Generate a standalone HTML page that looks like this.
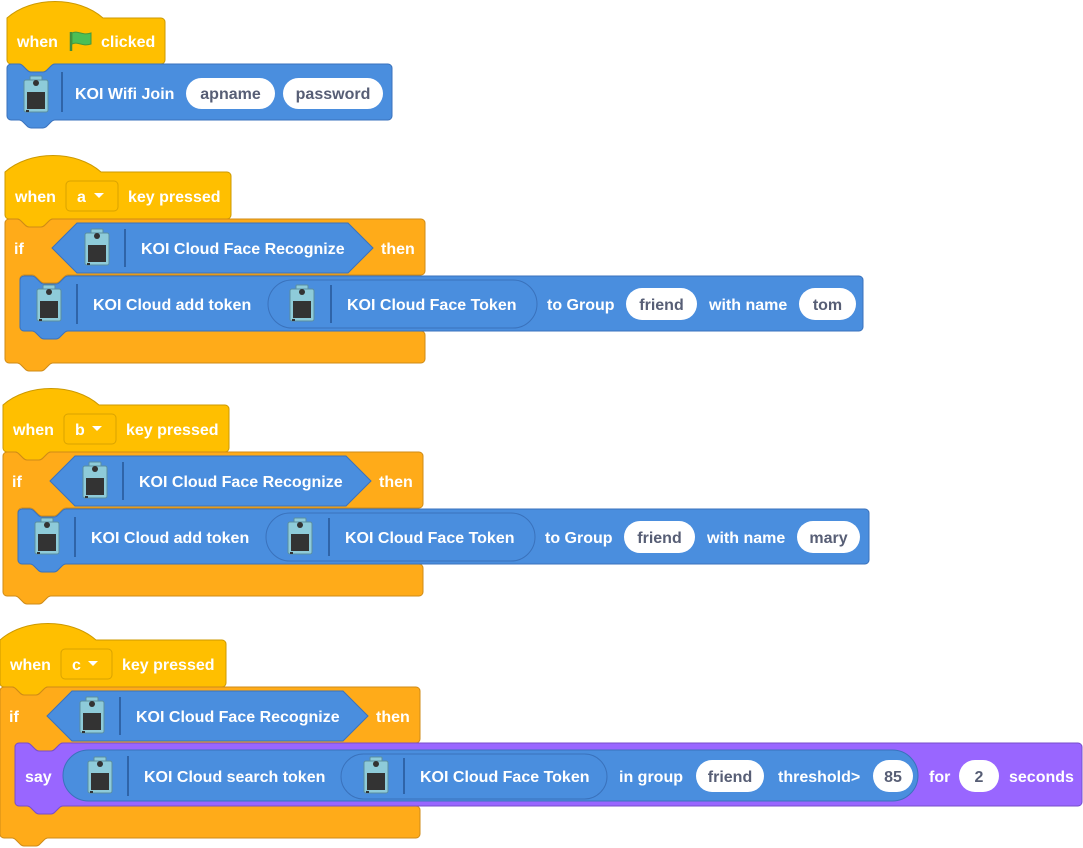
<!DOCTYPE html>
<html><head><meta charset="utf-8"><style>
html,body{margin:0;padding:0;background:#fff;width:1083px;height:848px;overflow:hidden}
svg text{font-family:"Liberation Sans",sans-serif;font-weight:bold;font-size:16px}
.w{fill:#fff}.g{fill:#575E75;text-anchor:middle}
.ov{fill:#fff}
.hat{fill:#FFBF00;stroke:#CC9900;stroke-width:1}
.dd{fill:#FFBF00;stroke:#D9A300;stroke-width:1}
.ctl{fill:#FFAB19;stroke:#CF8B17;stroke-width:1}
.blu{fill:#4A8EDE;stroke:#3A72BC;stroke-width:1}
.pur{fill:#9966FF;stroke:#774DCB;stroke-width:1}
.dv{stroke:#2F64A8;stroke-width:2}
</style></head><body>
<svg width="1083" height="848" viewBox="0 0 1083 848" xmlns="http://www.w3.org/2000/svg">
<defs>
<g id="ic">
<rect x="-6" y="-19" width="12" height="6" rx="1" fill="#8ECBD9" stroke="#5A8FA0"/>
<rect x="-12" y="-15" width="24" height="32" rx="2" fill="#8ECBD9" stroke="#5A8FA0"/>
<circle cx="0" cy="-12" r="3" fill="#333"/>
<rect x="-9" y="-3" width="18" height="17" fill="#333"/>
<rect x="-10" y="15" width="3" height="2" fill="#333"/>
</g>
</defs>

<!-- Script 1 -->
<path class="hat" d="M7,18 c25,-22 71,-22 96,0 H161 a4,4 0 0 1 4,4 V60 a4,4 0 0 1 -4,4 H55 c-2,0 -3,1 -4,2 l-4,4 c-1,1 -2,2 -4,2 h-12 c-2,0 -3,-1 -4,-2 l-4,-4 c-1,-1 -2,-2 -4,-2 H11 a4,4 0 0 1 -4,-4 Z"/>
<text class="w" x="17" y="47">when</text>
<path d="M71,32 V51" stroke="#3F8F3F" stroke-width="2.5"/>
<path d="M72,33 c6,-3 10,3 19,0 v11 c-9,3 -13,-3 -19,0 Z" fill="#4CBF56" stroke="#45993D"/>
<text class="w" x="101" y="47">clicked</text>

<path class="blu" d="M7,68 a4,4 0 0 1 4,-4 h8 c2,0 3,1 4,2 l4,4 c1,1 2,2 4,2 h12 c2,0 3,-1 4,-2 l4,-4 c1,-1 2,-2 4,-2 H388 a4,4 0 0 1 4,4 V116 a4,4 0 0 1 -4,4 H55 c-2,0 -3,1 -4,2 l-4,4 c-1,1 -2,2 -4,2 h-12 c-2,0 -3,-1 -4,-2 l-4,-4 c-1,-1 -2,-2 -4,-2 H11 a4,4 0 0 1 -4,-4 Z"/>
<use href="#ic" x="36" y="95"/>
<path class="dv" d="M62,72 V112"/>
<text class="w" x="75" y="99">KOI Wifi Join</text>
<rect class="ov" x="186" y="78" width="89" height="31" rx="15.5"/><text class="g" x="230.5" y="99">apname</text>
<rect class="ov" x="283" y="78" width="100" height="31" rx="15.5"/><text class="g" x="333" y="99">password</text>

<!-- Script 2 -->
<g>
<path class="hat" d="M5,172 c25,-22 71,-22 96,0 H227 a4,4 0 0 1 4,4 V215 a4,4 0 0 1 -4,4 H53 c-2,0 -3,1 -4,2 l-4,4 c-1,1 -2,2 -4,2 h-12 c-2,0 -3,-1 -4,-2 l-4,-4 c-1,-1 -2,-2 -4,-2 H9 a4,4 0 0 1 -4,-4 Z"/>
<text class="w" x="15" y="202">when</text>
<rect class="dd" x="66" y="181" width="52" height="30" rx="4"/>
<text class="w" x="77" y="202">a</text><path d="M94,193 h10 l-5,5 Z" fill="#fff"/>
<text class="w" x="128" y="202">key pressed</text>

<path class="ctl" d="M5,223 a4,4 0 0 1 4,-4 h8 c2,0 3,1 4,2 l4,4 c1,1 2,2 4,2 h12 c2,0 3,-1 4,-2 l4,-4 c1,-1 2,-2 4,-2 H421 a4,4 0 0 1 4,4 V271 a4,4 0 0 1 -4,4 H68 c-2,0 -3,1 -4,2 l-4,4 c-1,1 -2,2 -4,2 h-12 c-2,0 -3,-1 -4,-2 l-4,-4 c-1,-1 -2,-2 -4,-2 H24 a4,4 0 0 0 -4,4 V327 a4,4 0 0 0 4,4 H421 a4,4 0 0 1 4,4 V359 a4,4 0 0 1 -4,4 H53 c-2,0 -3,1 -4,2 l-4,4 c-1,1 -2,2 -4,2 h-12 c-2,0 -3,-1 -4,-2 l-4,-4 c-1,-1 -2,-2 -4,-2 H9 a4,4 0 0 1 -4,-4 Z"/>
<text class="w" x="14" y="254">if</text>
<polygon class="blu" points="52,248 77,223 348,223 373,248 348,273 77,273"/>
<use href="#ic" x="97" y="248"/><path class="dv" d="M125,229 V267"/>
<text class="w" x="141" y="254">KOI Cloud Face Recognize</text>
<text class="w" x="381" y="254">then</text>

<path class="blu" d="M20,280 a4,4 0 0 1 4,-4 h8 c2,0 3,1 4,2 l4,4 c1,1 2,2 4,2 h12 c2,0 3,-1 4,-2 l4,-4 c1,-1 2,-2 4,-2 H859 a4,4 0 0 1 4,4 V327 a4,4 0 0 1 -4,4 H68 c-2,0 -3,1 -4,2 l-4,4 c-1,1 -2,2 -4,2 h-12 c-2,0 -3,-1 -4,-2 l-4,-4 c-1,-1 -2,-2 -4,-2 H24 a4,4 0 0 1 -4,-4 Z"/>
<use href="#ic" x="49" y="304"/><path class="dv" d="M77,284 V324"/>
<text class="w" x="93" y="310">KOI Cloud add token</text>
<rect class="blu" x="268" y="280" width="269" height="48" rx="24"/>
<use href="#ic" x="302" y="304"/><path class="dv" d="M331,285 V323"/>
<text class="w" x="347" y="310">KOI Cloud Face Token</text>
<text class="w" x="547" y="310">to Group</text>
<rect class="ov" x="626" y="288" width="71" height="32" rx="16"/><text class="g" x="661.5" y="310">friend</text>
<text class="w" x="709" y="310">with name</text>
<rect class="ov" x="799" y="288" width="57" height="32" rx="16"/><text class="g" x="827.5" y="310">tom</text>
</g>

<!-- Script 3 -->
<g transform="translate(-2,233)">
<path class="hat" d="M5,172 c25,-22 71,-22 96,0 H227 a4,4 0 0 1 4,4 V215 a4,4 0 0 1 -4,4 H53 c-2,0 -3,1 -4,2 l-4,4 c-1,1 -2,2 -4,2 h-12 c-2,0 -3,-1 -4,-2 l-4,-4 c-1,-1 -2,-2 -4,-2 H9 a4,4 0 0 1 -4,-4 Z"/>
<text class="w" x="15" y="202">when</text>
<rect class="dd" x="66" y="181" width="52" height="30" rx="4"/>
<text class="w" x="77" y="202">b</text><path d="M94,193 h10 l-5,5 Z" fill="#fff"/>
<text class="w" x="128" y="202">key pressed</text>

<path class="ctl" d="M5,223 a4,4 0 0 1 4,-4 h8 c2,0 3,1 4,2 l4,4 c1,1 2,2 4,2 h12 c2,0 3,-1 4,-2 l4,-4 c1,-1 2,-2 4,-2 H421 a4,4 0 0 1 4,4 V271 a4,4 0 0 1 -4,4 H68 c-2,0 -3,1 -4,2 l-4,4 c-1,1 -2,2 -4,2 h-12 c-2,0 -3,-1 -4,-2 l-4,-4 c-1,-1 -2,-2 -4,-2 H24 a4,4 0 0 0 -4,4 V327 a4,4 0 0 0 4,4 H421 a4,4 0 0 1 4,4 V359 a4,4 0 0 1 -4,4 H53 c-2,0 -3,1 -4,2 l-4,4 c-1,1 -2,2 -4,2 h-12 c-2,0 -3,-1 -4,-2 l-4,-4 c-1,-1 -2,-2 -4,-2 H9 a4,4 0 0 1 -4,-4 Z"/>
<text class="w" x="14" y="254">if</text>
<polygon class="blu" points="52,248 77,223 348,223 373,248 348,273 77,273"/>
<use href="#ic" x="97" y="248"/><path class="dv" d="M125,229 V267"/>
<text class="w" x="141" y="254">KOI Cloud Face Recognize</text>
<text class="w" x="381" y="254">then</text>

<path class="blu" d="M20,280 a4,4 0 0 1 4,-4 h8 c2,0 3,1 4,2 l4,4 c1,1 2,2 4,2 h12 c2,0 3,-1 4,-2 l4,-4 c1,-1 2,-2 4,-2 H867 a4,4 0 0 1 4,4 V327 a4,4 0 0 1 -4,4 H68 c-2,0 -3,1 -4,2 l-4,4 c-1,1 -2,2 -4,2 h-12 c-2,0 -3,-1 -4,-2 l-4,-4 c-1,-1 -2,-2 -4,-2 H24 a4,4 0 0 1 -4,-4 Z"/>
<use href="#ic" x="49" y="304"/><path class="dv" d="M77,284 V324"/>
<text class="w" x="93" y="310">KOI Cloud add token</text>
<rect class="blu" x="268" y="280" width="269" height="48" rx="24"/>
<use href="#ic" x="302" y="304"/><path class="dv" d="M331,285 V323"/>
<text class="w" x="347" y="310">KOI Cloud Face Token</text>
<text class="w" x="547" y="310">to Group</text>
<rect class="ov" x="626" y="288" width="71" height="32" rx="16"/><text class="g" x="661.5" y="310">friend</text>
<text class="w" x="709" y="310">with name</text>
<rect class="ov" x="799" y="288" width="63" height="32" rx="16"/><text class="g" x="830.5" y="310">mary</text>
</g>

<!-- Script 4 -->
<g>
<path class="hat" d="M0,640 c25,-22 71,-22 96,0 H222 a4,4 0 0 1 4,4 V683 a4,4 0 0 1 -4,4 H48 c-2,0 -3,1 -4,2 l-4,4 c-1,1 -2,2 -4,2 h-12 c-2,0 -3,-1 -4,-2 l-4,-4 c-1,-1 -2,-2 -4,-2 H4 a4,4 0 0 1 -4,-4 Z"/>
<text class="w" x="10" y="670">when</text>
<rect class="dd" x="61" y="649" width="51" height="30" rx="4"/>
<text class="w" x="72" y="670">c</text><path d="M88,661 h10 l-5,5 Z" fill="#fff"/>
<text class="w" x="122" y="670">key pressed</text>

<path class="ctl" d="M0,691 a4,4 0 0 1 4,-4 h8 c2,0 3,1 4,2 l4,4 c1,1 2,2 4,2 h12 c2,0 3,-1 4,-2 l4,-4 c1,-1 2,-2 4,-2 H416 a4,4 0 0 1 4,4 V739 a4,4 0 0 1 -4,4 H63 c-2,0 -3,1 -4,2 l-4,4 c-1,1 -2,2 -4,2 h-12 c-2,0 -3,-1 -4,-2 l-4,-4 c-1,-1 -2,-2 -4,-2 H19 a4,4 0 0 0 -4,4 V802 a4,4 0 0 0 4,4 H416 a4,4 0 0 1 4,4 V834 a4,4 0 0 1 -4,4 H48 c-2,0 -3,1 -4,2 l-4,4 c-1,1 -2,2 -4,2 h-12 c-2,0 -3,-1 -4,-2 l-4,-4 c-1,-1 -2,-2 -4,-2 H4 a4,4 0 0 1 -4,-4 Z"/>
<text class="w" x="9" y="722">if</text>
<polygon class="blu" points="47,716 72,691 343,691 368,716 343,741 72,741"/>
<use href="#ic" x="92" y="716"/><path class="dv" d="M120,697 V735"/>
<text class="w" x="136" y="722">KOI Cloud Face Recognize</text>
<text class="w" x="376" y="722">then</text>

<path class="pur" d="M15,747 a4,4 0 0 1 4,-4 h8 c2,0 3,1 4,2 l4,4 c1,1 2,2 4,2 h12 c2,0 3,-1 4,-2 l4,-4 c1,-1 2,-2 4,-2 H1078 a4,4 0 0 1 4,4 V802 a4,4 0 0 1 -4,4 H63 c-2,0 -3,1 -4,2 l-4,4 c-1,1 -2,2 -4,2 h-12 c-2,0 -3,-1 -4,-2 l-4,-4 c-1,-1 -2,-2 -4,-2 H19 a4,4 0 0 1 -4,-4 Z"/>
<text class="w" x="25" y="782">say</text>
<rect class="blu" x="63" y="750" width="855" height="51" rx="25.5"/>
<use href="#ic" x="100" y="776"/><path class="dv" d="M128,756 V796"/>
<text class="w" x="144" y="782">KOI Cloud search token</text>
<rect class="blu" x="341" y="754" width="266" height="45" rx="22.5"/>
<use href="#ic" x="376" y="776"/><path class="dv" d="M404,758 V794"/>
<text class="w" x="420" y="782">KOI Cloud Face Token</text>
<text class="w" x="619" y="782">in group</text>
<rect class="ov" x="696" y="760" width="68" height="32" rx="16"/><text class="g" x="730" y="782">friend</text>
<text class="w" x="778" y="782">threshold&gt;</text>
<rect class="ov" x="873" y="760" width="40" height="32" rx="16"/><text class="g" x="893" y="782">85</text>
<text class="w" x="929" y="782">for</text>
<rect class="ov" x="959" y="760" width="40" height="32" rx="16"/><text class="g" x="979" y="782">2</text>
<text class="w" x="1009" y="782">seconds</text>
</g>
</svg>
</body></html>
